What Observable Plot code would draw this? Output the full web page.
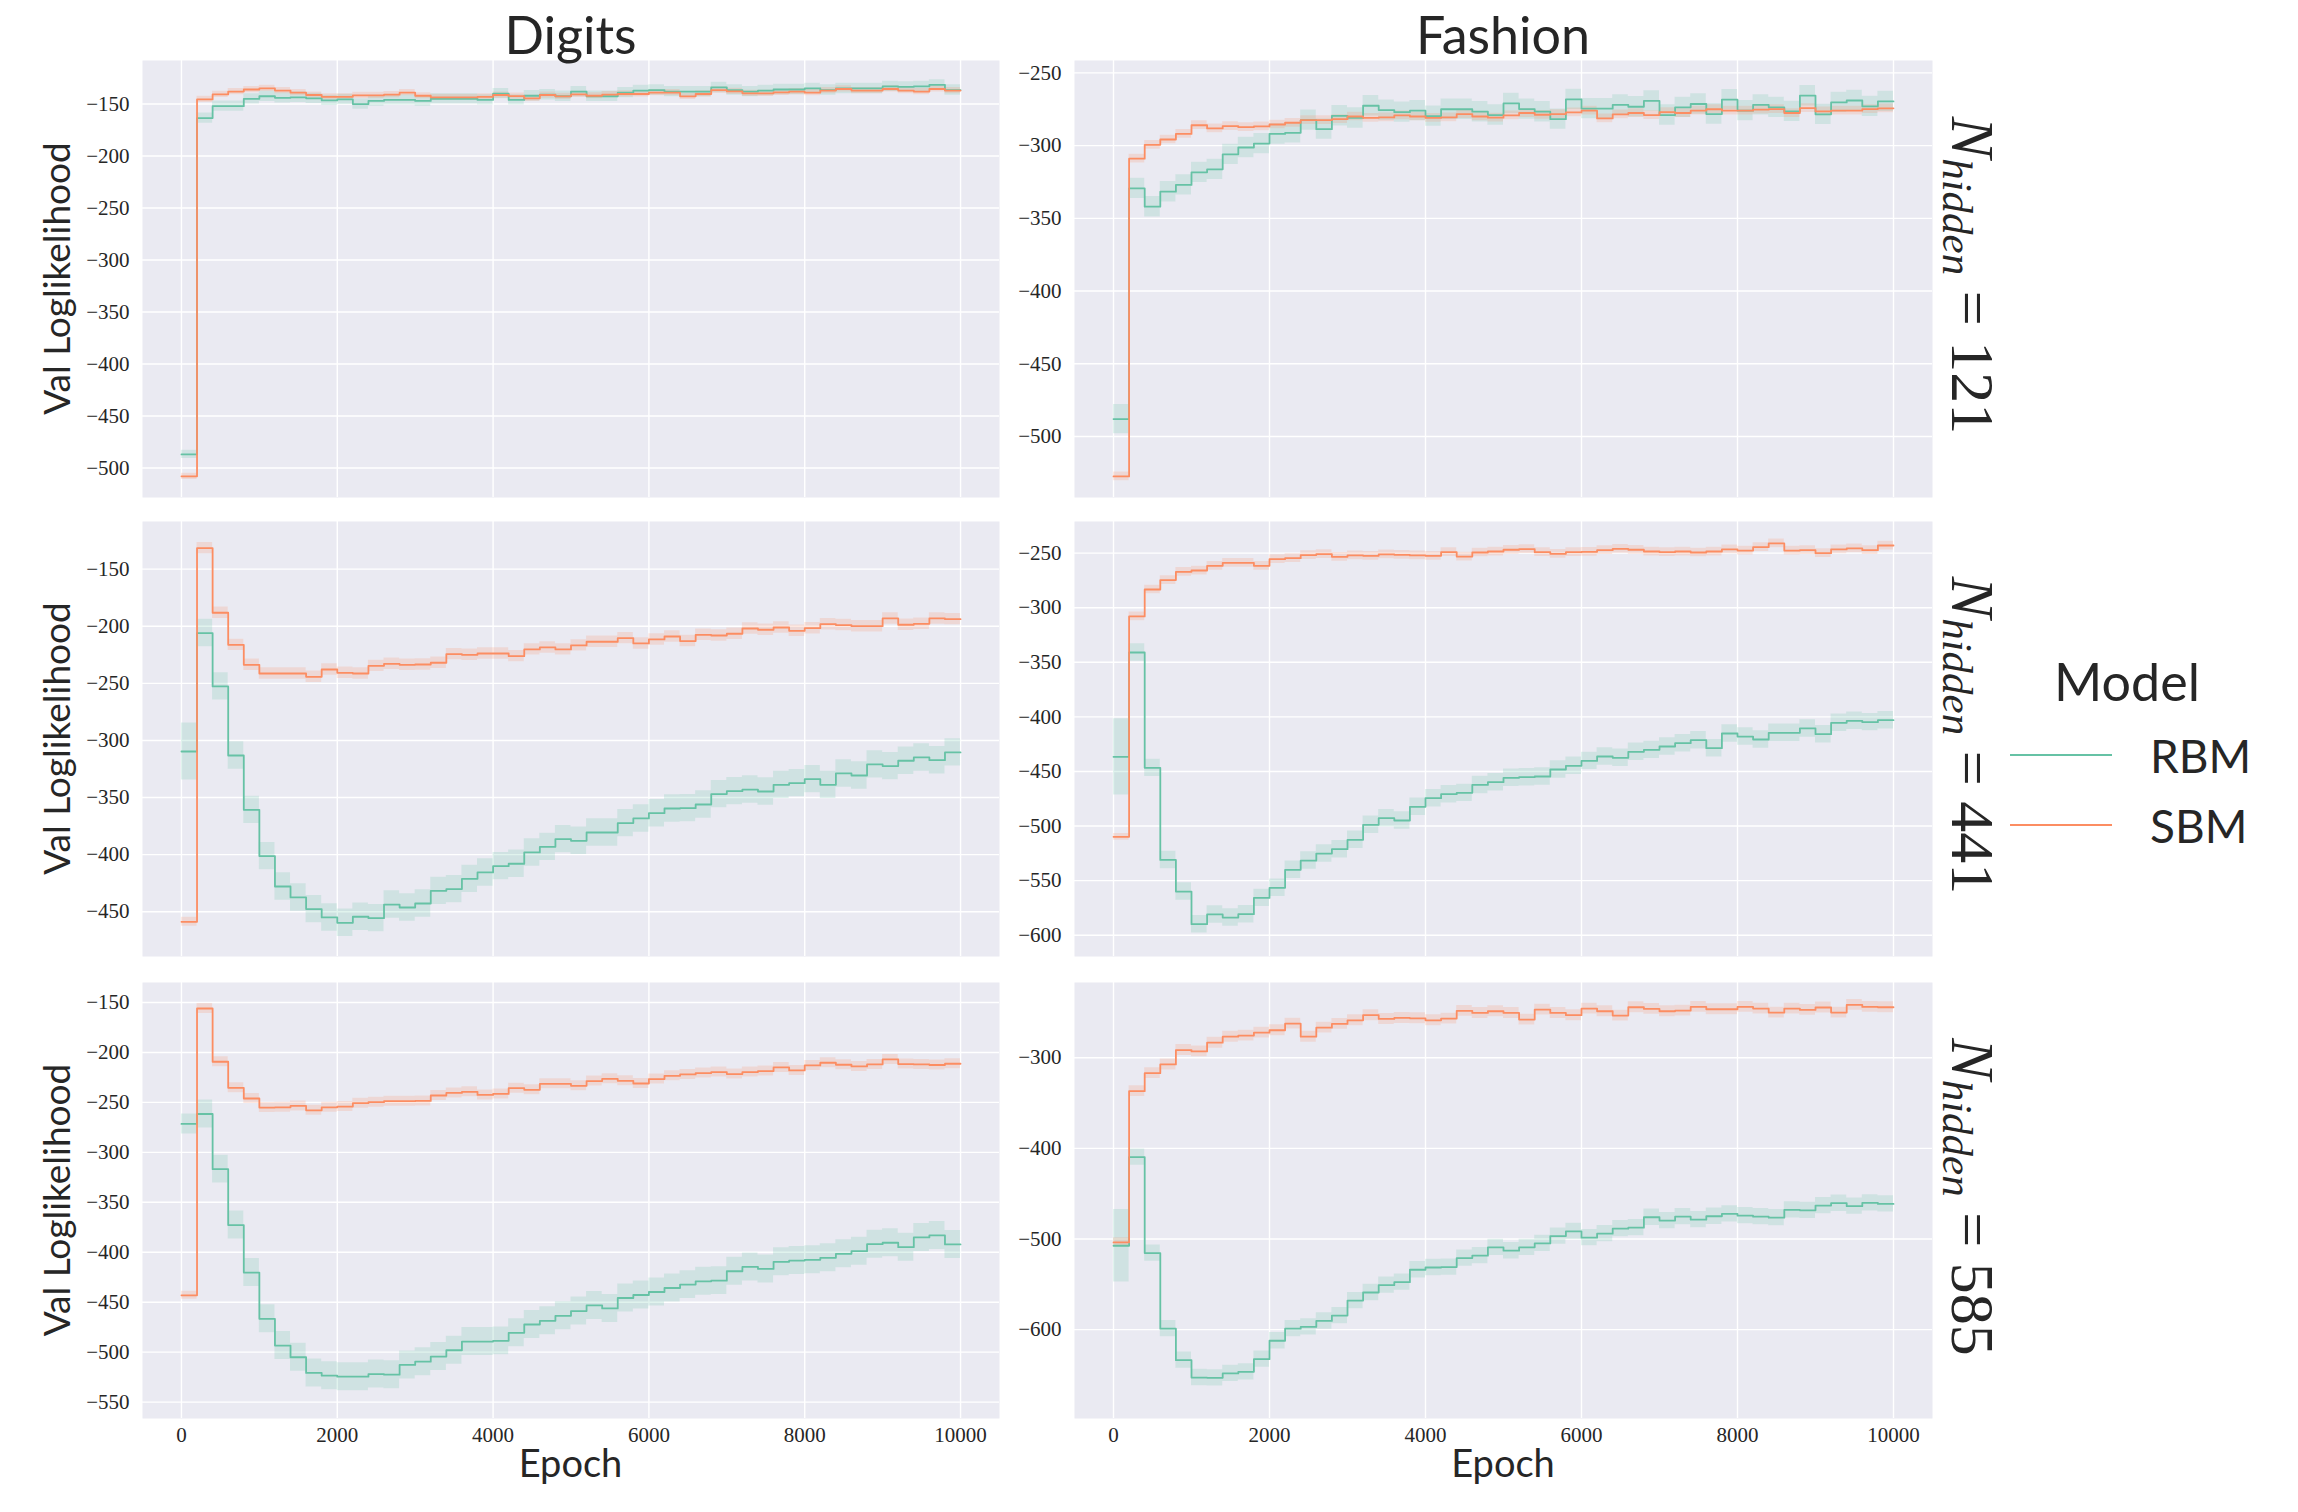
<!DOCTYPE html>
<html>
<head>
<meta charset="utf-8">
<script src="https://cdn.jsdelivr.net/npm/d3@7"></script>
<script src="https://cdn.jsdelivr.net/npm/@observablehq/plot@0.6"></script>
<style>
  html, body { margin: 0; padding: 0; background: #ffffff; }
  #fig { position: relative; width: 2298px; height: 1512px; overflow: hidden; background: #fff; }
  #fig > .panel { position: absolute; }
  #fig > .panel text { font-family: 'Liberation Serif', 'DejaVu Serif', serif !important; }
  #overlay { position: absolute; left: 0; top: 0; }
</style>
</head>
<body>
<div id="fig"></div>
<script>
// ---------------- data ----------------
const models = ["RBM", "SBM"];
const modelColors = ["#66c2a5", "#fc8d62"];
const datasets = ["Digits", "Fashion"];
const hiddenSizes = ["121", "441", "585"];
const xTicks = [0, 2000, 4000, 6000, 8000, 10000];

// mean validation log-likelihood, one value per 200-epoch block (epochs 0..9800)
const digits121RBM = [-487, -163.5, -152, -152, -145, -142.5, -144, -143.5, -144.5, -146.5, -145.5, -150, -147, -146, -146, -147, -145, -145, -145, -146, -140, -146, -142, -141, -142.5, -138, -142.5, -142.5, -139, -137, -136.5, -138, -138, -138, -134, -136.5, -138, -137, -136, -136, -135, -136.5, -135, -135, -135, -133, -133.5, -133, -131.5, -136.5];
const digits121SBM = [-508, -145.5, -140.7, -138, -136, -135, -137, -139, -141.3, -143, -143, -141.6, -141.6, -141, -139, -142, -143.6, -143.6, -143.6, -143, -141.3, -142.3, -144.5, -141.3, -142.6, -140.7, -142, -141, -140.3, -140.3, -139, -139, -142.6, -140.3, -136.5, -137.8, -139.7, -139.7, -138.7, -138, -139, -137, -135.5, -137, -137, -135.5, -137, -138, -135.5, -137];
const fashion121RBM = [-488, -329.4, -342, -331.7, -327, -318.4, -316.3, -306, -301.3, -298.6, -292, -291.2, -282.5, -288.7, -279.5, -281, -272.6, -275.6, -277, -276, -279.7, -275, -275, -276.7, -279, -271, -274.9, -276.7, -281.8, -268.2, -274.6, -274.6, -272, -273.3, -269.3, -279, -273.7, -271.4, -278.3, -268.4, -276, -272, -273.7, -276.5, -265.7, -278.5, -270.3, -269, -273, -269.6];
const fashion121SBM = [-527.4, -309, -299.5, -295.8, -292, -286, -288.2, -286.6, -287.3, -286.8, -285.5, -284.3, -282.5, -282.5, -281.8, -280, -281, -280.6, -279.2, -280, -281, -280.6, -278.3, -280, -280.8, -279.2, -277.6, -278.8, -278.3, -277.2, -276, -281.3, -278.5, -277.6, -279, -277, -277.6, -276, -275, -276, -276, -275.3, -274.9, -277.6, -274.2, -276.5, -276, -276, -274.9, -274.4];
const digits441RBM = [-309.7, -206, -252.7, -313.2, -360.8, -401.3, -427.9, -437.5, -447.7, -455, -459.7, -454.4, -455.6, -443.7, -446.3, -442.8, -431.7, -430.2, -421.2, -415.6, -410.1, -408, -398.1, -393.2, -386.4, -387.9, -380.6, -380.6, -372.4, -368.3, -363.7, -359.6, -359.3, -356.1, -347, -344.4, -343, -344.7, -338.9, -337.4, -333.9, -338.9, -328.9, -330.7, -321, -322.5, -317.8, -314.9, -317.3, -310.5];
const digits441SBM = [-458.8, -131.6, -188.2, -216.3, -233.8, -241.4, -241.4, -241.4, -244.3, -237.9, -240.8, -241.4, -234.7, -232.9, -233.8, -233.5, -232, -224.4, -225, -223.9, -223.9, -226.2, -220.3, -218.6, -220.3, -216.8, -213.6, -213.6, -210.4, -215.1, -211.6, -209, -213, -207.5, -208.1, -206.6, -202, -203.1, -201.1, -204, -201.7, -198.2, -199, -200, -200, -193.2, -198.7, -197.9, -193.2, -193.8];
const fashion441RBM = [-436.6, -341, -446.7, -531, -560, -589.9, -581, -583.8, -580.7, -565.8, -556.6, -540.1, -531.6, -525.2, -521.2, -512.6, -498.9, -492.8, -494.9, -482.4, -474.5, -470.8, -469.6, -462.3, -459.8, -455.8, -455.2, -454.6, -448.2, -444.8, -440.3, -436.3, -437.5, -432, -430.2, -427.1, -424.1, -421.3, -428.7, -415.2, -418, -420.7, -414.6, -414.6, -410.6, -415.8, -405.4, -403.6, -404.8, -403];
const fashion441SBM = [-509.9, -308, -283.3, -274.7, -267.1, -265.9, -261.6, -258.9, -258.9, -261.6, -255.5, -254.6, -251.8, -250.9, -253.4, -252.1, -252.4, -251.2, -251.5, -252.1, -252.4, -249.1, -253.1, -249.4, -248.5, -246.9, -246.3, -249.1, -250.6, -249.1, -248.8, -247.3, -246, -246.9, -248.5, -249.1, -248.5, -249.4, -248.5, -246.6, -247.6, -244.5, -241.1, -247.6, -247.3, -250, -246.6, -245.7, -247.3, -243];
const digits585RBM = [-271.6, -261.6, -316.8, -372.8, -420.3, -466.6, -493.4, -505.1, -520.8, -523.5, -524.5, -524.5, -521.9, -522.5, -512.8, -509.5, -504.4, -498.1, -489.4, -489.4, -488.7, -480.6, -472.3, -468.6, -463.6, -458.9, -453.2, -456.2, -445.8, -442.8, -439.8, -435.8, -432.4, -429.1, -428.4, -419, -414.7, -416.7, -409.6, -408.3, -407.6, -405.6, -401.6, -398.9, -391.9, -390.5, -394.9, -385.2, -383.2, -392.2];
const digits585SBM = [-443.1, -156, -209.3, -235.4, -246.1, -255.2, -254.9, -253.5, -257.9, -254.9, -254.2, -250.8, -249.8, -248.8, -248.8, -248.5, -243.1, -240.5, -239.4, -242.5, -241.5, -235.8, -237.4, -231.4, -231.4, -233.4, -228.7, -226.4, -228.4, -231.1, -226.7, -223.4, -222, -220.7, -219.7, -221.7, -219.7, -218.7, -215, -218, -213, -210.3, -212.3, -214, -212, -207, -211.6, -212, -212.6, -211.3];
const fashion585RBM = [-507.4, -409.6, -515.5, -598.9, -633.6, -652.8, -653.1, -648.3, -646.5, -632.5, -612.2, -598.9, -597, -590.4, -584.5, -567.9, -559, -550.9, -547.6, -533.9, -531.4, -531, -521, -518.4, -509.2, -512.9, -509.2, -504.8, -496.7, -491.5, -498.5, -494.1, -488.6, -487.5, -476, -479.7, -475.3, -478.6, -474.9, -472.3, -474.2, -475.3, -476.4, -467.9, -468.3, -463.1, -460.5, -463.8, -460.1, -461.3];
const fashion585SBM = [-503.7, -336.9, -317, -307.4, -291.5, -293, -283.4, -276.8, -275.6, -272.3, -269.7, -262.4, -276.8, -266.8, -262.7, -258.7, -253.1, -257.2, -256.1, -256.5, -258.7, -256.8, -248.3, -250.6, -248.7, -250.6, -257.9, -246.9, -250.6, -253.1, -245.8, -248.7, -253.5, -244.3, -246.1, -248.7, -248, -243.9, -246.5, -246.5, -243.9, -245.8, -250.2, -245.8, -247.2, -244.6, -250.2, -241.7, -243.9, -244.3];

// estimated half-width of the shaded spread: [first block, remaining blocks]
const digits121Spread = { RBM: [4, 5], SBM: [3, 3] };
const fashion121Spread = { RBM: [10, 7], SBM: [3, 3] };
const digits441Spread = { RBM: [25, 12], SBM: [4, 5] };
const fashion441Spread = { RBM: [35, 8], SBM: [3, 4] };
const digits585Spread = { RBM: [10, 14], SBM: [4, 5] };
const fashion585Spread = { RBM: [40, 9], SBM: [5, 6] };

// y-axis domains and ticks per panel
const digits121Y = [-528.4, -108.1], digits121Ticks = [-500, -450, -400, -350, -300, -250, -200, -150];
const fashion121Y = [-541.9, -241.5], fashion121Ticks = [-500, -450, -400, -350, -300, -250];
const digits441Y = [-489.2, -108.3], digits441Ticks = [-450, -400, -350, -300, -250, -200, -150];
const fashion441Y = [-619.5, -221], fashion441Ticks = [-600, -550, -500, -450, -400, -350, -300, -250];
const digits585Y = [-566.4, -130], digits585Ticks = [-550, -500, -450, -400, -350, -300, -250, -200, -150];
const fashion585Y = [-698, -217], fashion585Ticks = [-600, -500, -400, -300];

// ---------------- layout ----------------
const colLeft = [142, 1074], colWidth = [857, 858];
const rowTop = [60, 521, 982], rowHeight = [437, 435, 436];
const ML = 80, MB = 60;
const SANS = "Lato, 'Liberation Sans', sans-serif";
const SERIF = "'Liberation Serif', 'DejaVu Serif', serif";
const INK = "#262626";

const epochs = d3.range(0, 10001, 200);
function table(model, vals, spread) {
  return epochs.map((e, i) => {
    const v = vals[Math.min(i, vals.length - 1)];
    const s = i === 0 ? spread[model][0] : spread[model][1];
    return { epoch: e, model, value: v, lo: v - s, hi: v + s };
  });
}

const panels = [
  [digits121RBM, digits121SBM, digits121Spread, digits121Y, digits121Ticks],
  [fashion121RBM, fashion121SBM, fashion121Spread, fashion121Y, fashion121Ticks],
  [digits441RBM, digits441SBM, digits441Spread, digits441Y, digits441Ticks],
  [fashion441RBM, fashion441SBM, fashion441Spread, fashion441Y, fashion441Ticks],
  [digits585RBM, digits585SBM, digits585Spread, digits585Y, digits585Ticks],
  [fashion585RBM, fashion585SBM, fashion585Spread, fashion585Y, fashion585Ticks]
];

const fig = document.getElementById("fig");
panels.forEach(([rbm, sbm, spread, yDom, yTicks], k) => {
  const r = Math.floor(k / 2), c = k % 2;
  const bottom = r === 2;
  const data = table("RBM", rbm, spread).concat(table("SBM", sbm, spread));
  const w = colWidth[c], h = rowHeight[r];
  const mb = bottom ? MB : 0;
  const chart = Plot.plot({
    width: ML + w,
    height: h + mb,
    marginLeft: ML, marginRight: 0, marginTop: 0, marginBottom: mb,
    x: { domain: [-500, 10500], axis: null },
    y: { domain: yDom, axis: null },
    color: { domain: models, range: modelColors },
    style: { fontFamily: SERIF, fontSize: "21px", color: INK, background: "transparent", overflow: "visible" },
    marks: [
      Plot.frame({ fill: "#EAEAF2", stroke: "none" }),
      Plot.gridY(yTicks, { stroke: "#ffffff", strokeOpacity: 1, strokeWidth: 1.4 }),
      Plot.gridX(xTicks, { stroke: "#ffffff", strokeOpacity: 1, strokeWidth: 1.4 }),
      Plot.axisY(yTicks, { tickSize: 0, tickPadding: 13, tickFormat: d3.format("d"), label: null, fontSize: 21, fontFamily: SERIF }),
      bottom ? Plot.axisX(xTicks, { tickSize: 0, tickPadding: 9, tickFormat: d => String(d), label: null, fontSize: 21, fontFamily: SERIF }) : null,
      Plot.areaY(data, { x: "epoch", y1: "lo", y2: "hi", z: "model", fill: "model", fillOpacity: 0.2, curve: "step-after" }),
      Plot.lineY(data, { x: "epoch", y: "value", z: "model", stroke: "model", strokeWidth: 1.8, curve: "step-after" })
    ]
  });
  chart.classList.add("panel");
  chart.style.left = (colLeft[c] - ML) + "px";
  chart.style.top = rowTop[r] + "px";
  fig.appendChild(chart);
});

// ---------------- titles, labels, legend ----------------
const ns = "http://www.w3.org/2000/svg";
const ov = document.createElementNS(ns, "svg");
ov.setAttribute("id", "overlay");
ov.setAttribute("width", 2298);
ov.setAttribute("height", 1512);
fig.appendChild(ov);
function txt(str, attrs, parent = ov) {
  const t = document.createElementNS(ns, "text");
  for (const [a, v] of Object.entries(attrs)) t.setAttribute(a, v);
  if (str != null) t.textContent = str;
  parent.appendChild(t);
  return t;
}
function tspan(parent, str, attrs) {
  const t = document.createElementNS(ns, "tspan");
  for (const [a, v] of Object.entries(attrs)) t.setAttribute(a, v);
  t.textContent = str;
  parent.appendChild(t);
  return t;
}

datasets.forEach((name, c) => {
  const cx = colLeft[c] + colWidth[c] / 2;
  txt(name, { x: cx, y: 54, "text-anchor": "middle", "font-family": SANS, "font-size": 52, fill: INK });
  txt("Epoch", { x: cx, y: 1477, "text-anchor": "middle", "font-family": SANS, "font-size": 38, fill: INK });
});

hiddenSizes.forEach((n, r) => {
  const cy = rowTop[r] + rowHeight[r] / 2;
  txt("Val Loglikelihood", { transform: `translate(70,${cy}) rotate(-90)`, "text-anchor": "middle", "font-family": SANS, "font-size": 37, fill: INK });
  const t = txt(null, { transform: `translate(1952,${cy - 3}) rotate(90)`, "text-anchor": "middle", "font-family": SERIF, "font-size": 62, fill: INK });
  tspan(t, "N", { "font-style": "italic" });
  tspan(t, "hidden", { "font-style": "italic", "font-size": 43, dy: 9 });
  tspan(t, " = " + n, { dy: -9 });
});

txt("Model", { x: 2127, y: 701, "text-anchor": "middle", "font-family": SANS, "font-size": 52, fill: INK });
models.forEach((m, i) => {
  const y = 755 + i * 70;
  const l = document.createElementNS(ns, "line");
  l.setAttribute("x1", 2010); l.setAttribute("x2", 2112);
  l.setAttribute("y1", y); l.setAttribute("y2", y);
  l.setAttribute("stroke", modelColors[i]); l.setAttribute("stroke-width", 2);
  ov.appendChild(l);
  txt(m, { x: 2150, y: y + 18, "font-family": SANS, "font-size": 46, fill: INK });
});
</script>
</body>
</html>
